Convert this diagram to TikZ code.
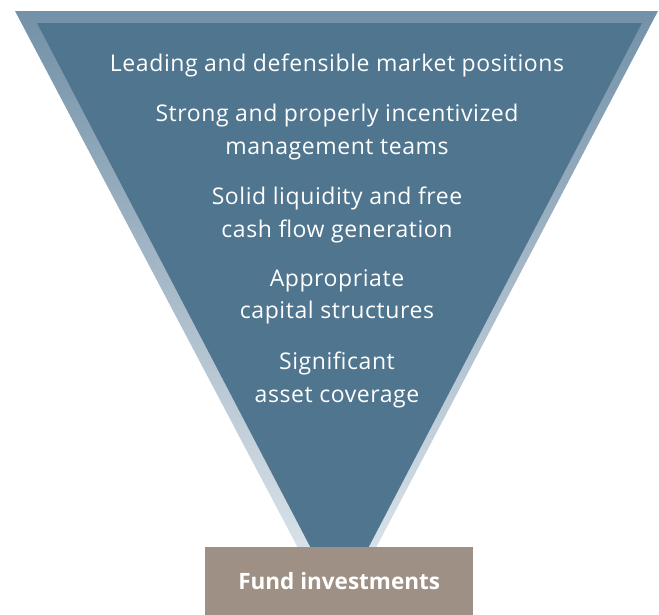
\documentclass[tikz,border=0pt]{standalone}
\usepackage{fontspec}
\setmainfont{Open Sans}
\newfontfamily\critfont[LetterSpace=2.5]{Open Sans}
\definecolor{innerblue}{HTML}{50758F}
\definecolor{outertop}{HTML}{7391A8}
\definecolor{outerbot}{HTML}{E6ECF1}
\definecolor{taupe}{HTML}{9E9084}
\begin{document}
\begin{tikzpicture}[x=1pt,y=-1pt,
  crit/.style={text=white,font=\critfont\fontsize{23}{32.5}\selectfont,align=center,anchor=center},
  fundbox/.style={fill=taupe,text=white,font=\bfseries\fontsize{22.5}{24}\selectfont,minimum width=268pt,minimum height=68pt,inner sep=0pt,anchor=north west}]
\useasboundingbox (0,0) rectangle (659,614);
\shade[top color=outertop,bottom color=outerbot] (15,11) -- (658,11) -- (337,622) -- cycle;
\fill[innerblue] (37,23) -- (642,23) -- (339.5,603) -- cycle;
\node[crit] (c1) at (337,65) {Leading and defensible market positions};
\node[crit] (c2) at (337,132) {Strong and properly incentivized\\management teams};
\node[crit] (c3) at (337,215) {Solid liquidity and free\\cash flow generation};
\node[crit] (c4) at (337,297) {Appropriate\\capital structures};
\node[crit] (c5) at (337,380) {Significant\\asset coverage};
\node[fundbox] (fund) at (205,547) {Fund investments};
\end{tikzpicture}
\end{document}
